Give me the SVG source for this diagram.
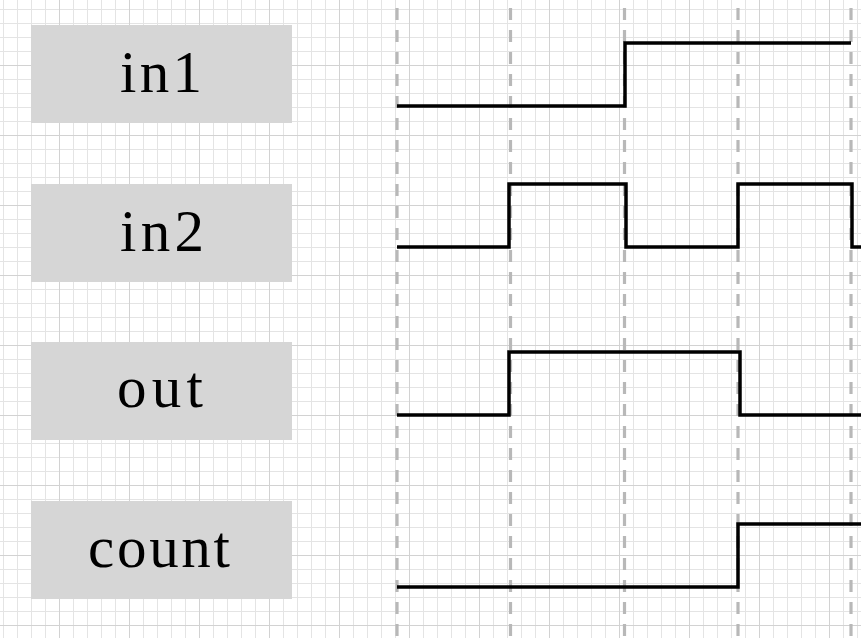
<svg xmlns="http://www.w3.org/2000/svg" width="861" height="638" viewBox="0 0 861 638">
  <defs>
    <pattern id="grid" patternUnits="userSpaceOnUse" x="59" y="65" width="70" height="70">
      <rect x="14" y="0" width="1" height="70" fill="#e4e4e4"/>
      <rect x="28" y="0" width="1" height="70" fill="#e4e4e4"/>
      <rect x="42" y="0" width="1" height="70" fill="#e4e4e4"/>
      <rect x="56" y="0" width="1" height="70" fill="#e4e4e4"/>
      <rect x="0" y="14" width="70" height="1" fill="#e4e4e4"/>
      <rect x="0" y="28" width="70" height="1" fill="#e4e4e4"/>
      <rect x="0" y="42" width="70" height="1" fill="#e4e4e4"/>
      <rect x="0" y="56" width="70" height="1" fill="#e4e4e4"/>
      <rect x="0" y="0" width="1" height="70" fill="#d2d2d2"/>
      <rect x="0" y="0" width="70" height="1" fill="#d2d2d2"/>
    </pattern>
  </defs>
  <style>
    .box { fill: #d6d6d6; }
    .lbl { font-family: "Liberation Serif", "DejaVu Serif", serif; font-size: 59px; fill: #000; text-anchor: middle; }
    .guide { stroke: #b8b8b8; stroke-width: 3.2; stroke-dasharray: 12 10; fill: none; }
    .wave { stroke: #000; stroke-width: 3.5; fill: none; stroke-linejoin: miter; stroke-linecap: butt; }
  </style>
  <rect x="0" y="0" width="861" height="638" fill="#ffffff"/>
  <rect x="0" y="0" width="861" height="638" fill="url(#grid)"/>

  <g id="guides">
    <line class="guide" x1="397" y1="8" x2="397" y2="638"/>
    <line class="guide" x1="510.5" y1="8" x2="510.5" y2="638"/>
    <line class="guide" x1="624.5" y1="8" x2="624.5" y2="638"/>
    <line class="guide" x1="738" y1="8" x2="738" y2="638"/>
    <line class="guide" x1="851" y1="8" x2="851" y2="638"/>
  </g>

  <g id="node-in1">
    <rect class="box" x="31" y="25" width="261" height="98"/>
    <text class="lbl" x="161" y="92" textLength="82" lengthAdjust="spacing">in1</text>
  </g>
  <g id="node-in2">
    <rect class="box" x="31" y="184" width="261" height="98"/>
    <text class="lbl" x="162" y="251" textLength="84" lengthAdjust="spacing">in2</text>
  </g>
  <g id="node-out">
    <rect class="box" x="31" y="342" width="261" height="98"/>
    <text class="lbl" x="160" y="407" textLength="86" lengthAdjust="spacing">out</text>
  </g>
  <g id="node-count">
    <rect class="box" x="31" y="501" width="261" height="98"/>
    <text class="lbl" x="159" y="567" textLength="142" lengthAdjust="spacing">count</text>
  </g>

  <g id="connectors">
    <path class="wave" d="M397 106 H625 V43 H851"/>
    <path class="wave" d="M397 247 H509 V184 H626 V247 H738 V184 H852 V247 H861"/>
    <path class="wave" d="M397 415 H509 V352 H740 V415 H861"/>
    <path class="wave" d="M397 587 H738 V524 H861"/>
  </g>
</svg>
